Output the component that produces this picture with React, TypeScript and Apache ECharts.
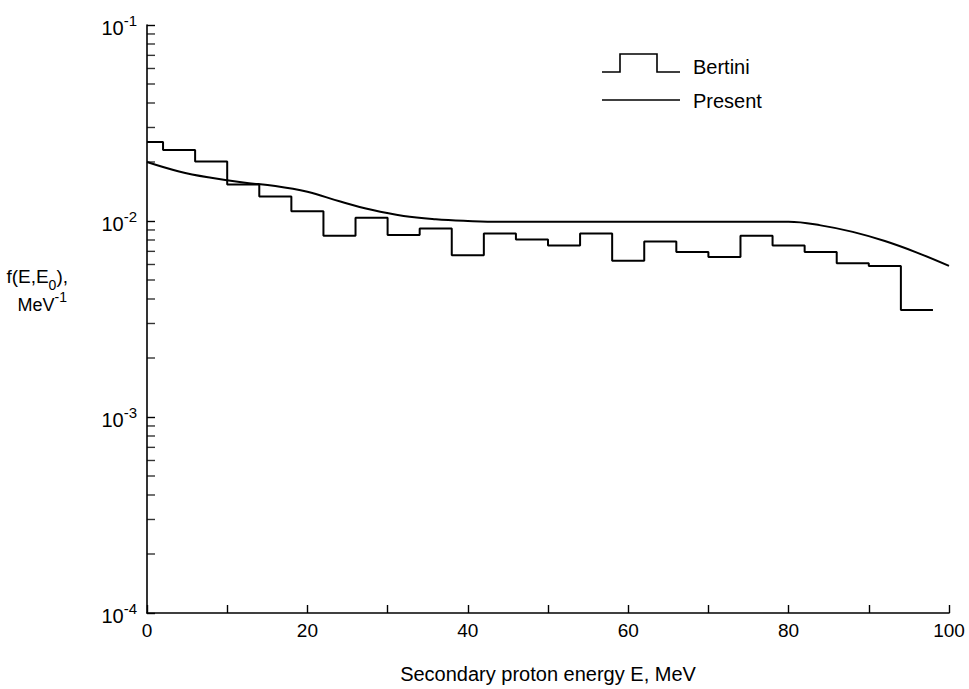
import React, { useEffect, useRef } from "react";
import * as echarts from "echarts";

const FONT = "'Liberation Sans', Arial, Helvetica, sans-serif";

// Bertini histogram: bin left edges and bin values (last edge closes final bin)
const binEdges = [0, 2, 6, 10, 14, 18, 22, 26, 30, 34, 38, 42, 46, 50, 54, 58, 62, 66, 70, 74, 78, 82, 86, 90, 94, 98];
const bertiniValues = [
  0.0253, 0.0230, 0.0201, 0.01537, 0.01334, 0.01122, 0.00841, 0.0104, 0.00848, 0.00916,
  0.00668, 0.00864, 0.00804, 0.0075, 0.00864, 0.00626, 0.00785, 0.00695, 0.00656, 0.00841,
  0.0075, 0.00695, 0.00608, 0.00589, 0.00351,
];

// Present model curve
const presentE = [0, 4, 8, 12, 16, 20, 24, 28, 32, 36, 40, 44, 60, 80, 84, 88, 92, 96, 100];
const presentValues = [
  0.0200, 0.0179, 0.0166, 0.0157, 0.0151, 0.0141, 0.0126, 0.0114, 0.0106, 0.0102, 0.0100,
  0.0099, 0.0099, 0.0099, 0.0095, 0.0088, 0.0079, 0.0069, 0.0059,
];

// Minor log ticks on the y axis (2..9 x 10^k)
const minorMultipliers = [2, 3, 4, 5, 6, 7, 8, 9];
const decades = [-4, -3, -2];

const xTickLabels = ["0", "20", "40", "60", "80", "100"];

export default function App() {
  const ref = useRef<HTMLDivElement>(null);
  useEffect(() => {
    if (!ref.current) return;
    const chart = echarts.init(ref.current, null, { renderer: "svg" });

    const bertiniData: number[][] = binEdges.map((e, i) => [
      e,
      bertiniValues[Math.min(i, bertiniValues.length - 1)],
    ]);
    const presentData = presentE.map((e, i) => [e, presentValues[i]]);
    const minorData: number[][] = [];
    decades.forEach((d) =>
      minorMultipliers.forEach((m) => minorData.push([0, m * Math.pow(10, d)]))
    );

    chart.setOption({
      animation: false,
      backgroundColor: "#fff",
      grid: { left: 147, right: 20, top: 25, bottom: 64, containLabel: false },
      xAxis: {
        type: "value",
        min: 0,
        max: 100,
        interval: 10,
        name: "Secondary proton energy E, MeV",
        nameLocation: "middle",
        nameGap: 51,
        nameTextStyle: { fontSize: 20, fontFamily: FONT, color: "#000" },
        axisLine: { show: true, onZero: false, lineStyle: { color: "#000", width: 1.6 } },
        axisTick: { show: true, inside: true, length: 8, lineStyle: { color: "#000", width: 1.4 } },
        axisLabel: {
          fontSize: 19,
          fontFamily: FONT,
          color: "#000",
          margin: 8,
          formatter: (v: number) => (xTickLabels.includes(String(v)) ? String(v) : ""),
        },
        splitLine: { show: false },
      },
      yAxis: {
        type: "log",
        logBase: 10,
        min: 1e-4,
        max: 1e-1,
        axisLine: { show: true, lineStyle: { color: "#000", width: 1.6 } },
        axisTick: { show: true, inside: true, length: 8, lineStyle: { color: "#000", width: 1.4 } },
        axisLabel: {
          margin: 10,
          formatter: (v: number) => {
            const e = Math.round(Math.log10(v));
            return `{a|10}{b|${e}}`;
          },
          rich: {
            a: { fontSize: 20, fontFamily: FONT, color: "#000", lineHeight: 25, verticalAlign: "bottom" },
            b: { fontSize: 15, fontFamily: FONT, color: "#000", verticalAlign: "top" },
          },
        },
        splitLine: { show: false },
      },
      series: [
        {
          name: "Bertini",
          type: "line",
          step: "end",
          data: bertiniData,
          symbol: "none",
          lineStyle: { color: "#000", width: 2 },
          silent: true,
        },
        {
          name: "Present",
          type: "line",
          smooth: 0.4,
          data: presentData,
          symbol: "none",
          lineStyle: { color: "#000", width: 2 },
          silent: true,
        },
        {
          name: "minorTicks",
          type: "scatter",
          data: minorData,
          symbol: "rect",
          symbolSize: [8, 1.4],
          symbolOffset: [4, 0],
          itemStyle: { color: "#000" },
          clip: false,
          silent: true,
        },
      ],
      graphic: [
        {
          type: "polyline",
          shape: { points: [[602, 72], [620, 72], [620, 54], [657, 54], [657, 72], [680, 72]] },
          style: { stroke: "#000", lineWidth: 1.6, fill: null },
        },
        {
          type: "text",
          x: 693,
          y: 67,
          style: { text: "Bertini", font: `20px ${FONT}`, fill: "#000", textVerticalAlign: "middle" },
        },
        {
          type: "line",
          shape: { x1: 602, y1: 100, x2: 680, y2: 100 },
          style: { stroke: "#000", lineWidth: 1.4 },
        },
        {
          type: "text",
          x: 693,
          y: 101,
          style: { text: "Present", font: `20px ${FONT}`, fill: "#000", textVerticalAlign: "middle" },
        },
        {
          type: "text",
          x: 68,
          y: 279,
          style: {
            text: "{a|f(E,E}{s|0}{a|),}",
            textAlign: "right",
            textVerticalAlign: "middle",
            rich: {
              a: { fontSize: 19, fontFamily: FONT, fill: "#000", lineHeight: 25, verticalAlign: "top" },
              s: { fontSize: 14, fontFamily: FONT, fill: "#000", verticalAlign: "bottom" },
            },
          },
        },
        {
          type: "text",
          x: 67,
          y: 302,
          style: {
            text: "{a|MeV}{s|-1}",
            textAlign: "right",
            textVerticalAlign: "middle",
            rich: {
              a: { fontSize: 18, fontFamily: FONT, fill: "#000", lineHeight: 24, verticalAlign: "bottom" },
              s: { fontSize: 14, fontFamily: FONT, fill: "#000", verticalAlign: "top" },
            },
          },
        },
      ],
    });
    return () => chart.dispose();
  }, []);
  return (
    <div
      ref={ref}
      style={{ position: "fixed", left: 0, top: 0, width: 969, height: 689, background: "#fff" }}
    />
  );
}
